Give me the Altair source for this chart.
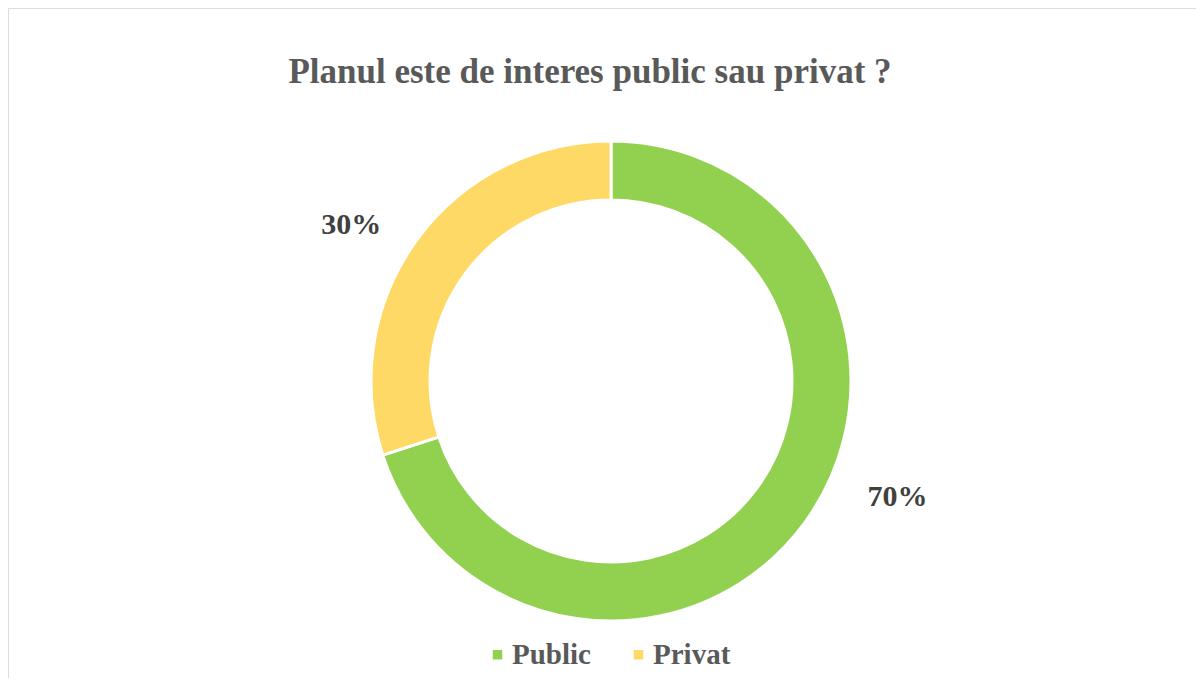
import altair as alt
import pandas as pd

categories = ["Public", "Privat"]
values = [70, 30]
labels = ["70%", "30%"]
colors = ["#92D050", "#FFD966"]
order = [0, 1]

df = pd.DataFrame({"cat": categories, "val": values, "label": labels, "ord": order})

CX, CY = 603, 373
SERIF = "Liberation Serif"

base = alt.Chart(df).encode(
    theta=alt.Theta("val:Q", stack=True),
    order=alt.Order("ord:Q"),
)

arc = base.mark_arc(outerRadius=240, innerRadius=181, stroke="white", strokeWidth=3).encode(
    color=alt.Color(
        "cat:N",
        scale=alt.Scale(domain=categories, range=colors),
        sort=categories,
        legend=alt.Legend(
            title=None,
            orient="none",
            direction="horizontal",
            legendX=475,
            legendY=632,
            symbolType="square",
            symbolSize=90,
            symbolStrokeWidth=0,
            labelFont=SERIF,
            labelFontSize=29,
            labelFontWeight="bold",
            labelColor="#595959",
            columnPadding=33,
            labelOffset=0,
        ),
    ),
    x=alt.value(CX),
    y=alt.value(CY),
)

def label_layer(cat, theta_off, radius):
    return base.mark_text(
        radius=radius,
        thetaOffset=theta_off,
        font=SERIF,
        fontSize=30,
        fontWeight="bold",
        color="#404040",
        align="center",
        baseline="middle",
    ).encode(
        text=alt.condition(alt.datum.cat == cat, "label:N", alt.value("")),
        x=alt.value(CX),
        y=alt.value(CY),
    )

chart = alt.layer(
    arc,
    label_layer("Public", -0.244, 309),
    label_layer("Privat", -0.087, 303),
).properties(
    width=1188,
    height=670,
    padding=0,
    autosize=alt.AutoSizeParams(type="none"),
    title=alt.TitleParams(
        "Planul este de interes public sau privat ?",
        font=SERIF,
        fontSize=35,
        fontWeight="bold",
        color="#595959",
        anchor="middle",
        dx=-12,
        offset=-82,
    ),
).configure_view(
    stroke="#D9D9D9",
    strokeWidth=1,
).configure(background="white")

chart.save("out.html", embed_options={"renderer": "svg", "actions": False})
